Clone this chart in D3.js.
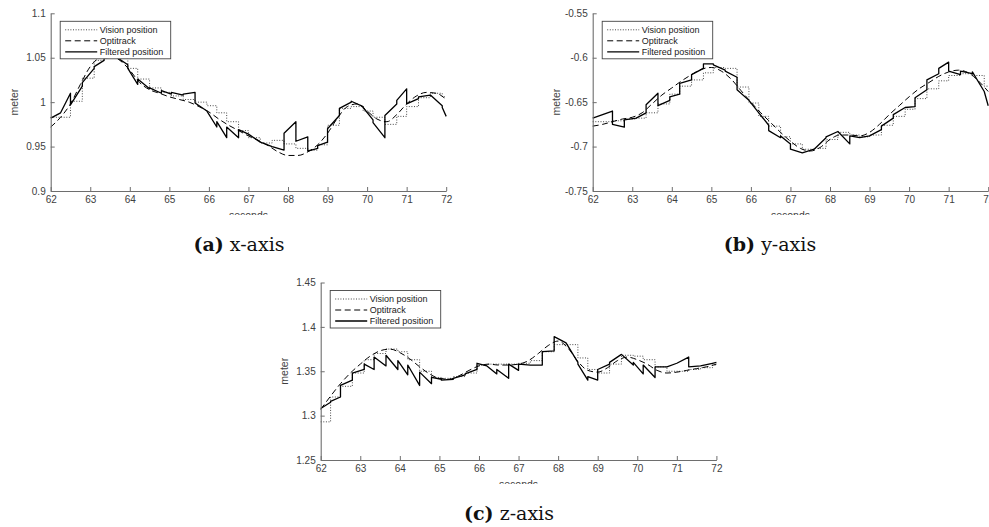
<!DOCTYPE html>
<html>
<head>
<meta charset="utf-8">
<script src="https://cdn.jsdelivr.net/npm/d3@7"></script>
<style>
  body { margin: 0; background: #fff; }
  svg { display: block; }
</style>
</head>
<body>
<div id="chart"></div>
<script>
// vision samples arrive at these times (shared by the three axes)
const visionTimes = [62.0, 62.25, 62.5, 62.8, 63.1, 63.35, 63.65, 63.95, 64.2, 64.5, 64.8, 65.05,
    65.35, 65.65, 65.95, 66.2, 66.45, 66.75, 67.0, 67.3, 67.6, 67.9, 68.2, 68.5,
    68.75, 69.0, 69.3, 69.6, 69.9, 70.15, 70.45, 70.75, 71.0, 71.3, 71.6, 71.9];

// optitrack sample times
const optiTimes = [62.0, 62.25, 62.5, 62.75, 63.0, 63.25, 63.5, 63.75, 64.0, 64.25, 64.5, 64.75,
    65.0, 65.25, 65.5, 65.75, 66.0, 66.25, 66.5, 66.75, 67.0, 67.25, 67.5, 67.75,
    68.0, 68.25, 68.5, 68.75, 69.0, 69.25, 69.5, 69.75, 70.0, 70.25, 70.5, 70.75,
    71.0, 71.25, 71.5, 71.75, 72.0];

// ---- x-axis
const xOpti = [0.972, 0.983, 0.998, 1.02, 1.04, 1.05, 1.052, 1.047, 1.036, 1.022, 1.014, 1.01,
    1.006, 1.003, 1.0, 0.995, 0.989, 0.981, 0.974, 0.968, 0.962, 0.957, 0.951, 0.944,
    0.94, 0.94, 0.944, 0.952, 0.965, 0.982, 0.995, 0.998, 0.99, 0.981, 0.978, 0.986,
    0.998, 1.007, 1.011, 1.01, 1.003];
const xVision = [0.983, 0.983, 1.001, 1.027, 1.047, 1.052, 1.05, 1.038, 1.026, 1.016, 1.011, 1.007,
    1.003, 1.0, 0.996, 0.988, 0.978, 0.968, 0.96, 0.954, 0.957, 0.953, 0.948, 0.946,
    0.952, 0.974, 0.993, 0.995, 0.99, 0.983, 0.975, 0.984, 0.995, 1.005, 1.01, 1.006];
const xFiltStart = [0.982, 0.988, 0.997, 1.022, 1.04, 1.049, 1.051, 1.038, 1.026, 1.016, 1.013, 1.011,
    1.009, 0.999, 0.99, 0.978, 0.972, 0.969, 0.964, 0.955, 0.95, 0.965, 0.956, 0.945,
    0.951, 0.97, 0.993, 1.001, 0.994, 0.977, 0.985, 1.002, 0.998, 1.006, 1.008, 0.994];
const xFiltEnd = [0.988, 1.01, 1.018, 1.038, 1.047, 1.052, 1.042, 1.02, 1.015, 1.01, 1.009, 1.008,
    1.011, 0.99, 0.972, 0.96, 0.96, 0.964, 0.955, 0.95, 0.946, 0.978, 0.961, 0.948,
    0.955, 0.985, 1.0, 0.995, 0.98, 0.96, 0.998, 1.015, 1.004, 1.008, 0.996, 0.984];

// ---- y-axis
const yOpti = [-0.677, -0.675, -0.672, -0.669, -0.667, -0.662, -0.652, -0.642, -0.634, -0.626, -0.619, -0.613,
    -0.611, -0.615, -0.624, -0.637, -0.65, -0.662, -0.673, -0.684, -0.694, -0.702, -0.705, -0.701,
    -0.692, -0.687, -0.687, -0.688, -0.684, -0.675, -0.664, -0.654, -0.644, -0.635, -0.628, -0.621,
    -0.616, -0.614, -0.617, -0.626, -0.638];
const yVision = [-0.672, -0.672, -0.671, -0.669, -0.668, -0.662, -0.652, -0.641, -0.632, -0.625, -0.617, -0.611,
    -0.612, -0.633, -0.651, -0.666, -0.677, -0.689, -0.697, -0.703, -0.702, -0.692, -0.684, -0.687,
    -0.689, -0.687, -0.676, -0.666, -0.658, -0.646, -0.635, -0.626, -0.62, -0.618, -0.62, -0.632];
const yFiltStart = [-0.668, -0.664, -0.675, -0.67, -0.668, -0.653, -0.654, -0.644, -0.629, -0.619, -0.607, -0.608,
    -0.615, -0.636, -0.648, -0.662, -0.682, -0.688, -0.703, -0.707, -0.703, -0.689, -0.683, -0.688,
    -0.69, -0.688, -0.677, -0.664, -0.656, -0.645, -0.625, -0.612, -0.615, -0.615, -0.616, -0.638];
const yFiltEnd = [-0.664, -0.66, -0.678, -0.668, -0.662, -0.64, -0.648, -0.641, -0.625, -0.612, -0.607, -0.614,
    -0.622, -0.648, -0.662, -0.676, -0.69, -0.697, -0.707, -0.703, -0.69, -0.683, -0.697, -0.69,
    -0.688, -0.681, -0.668, -0.656, -0.655, -0.636, -0.618, -0.605, -0.619, -0.618, -0.638, -0.654];

// ---- z-axis
const zOpti = [1.307, 1.322, 1.336, 1.348, 1.358, 1.367, 1.373, 1.375, 1.371, 1.364, 1.355, 1.347,
    1.342, 1.341, 1.345, 1.351, 1.356, 1.358, 1.357, 1.357, 1.358, 1.362, 1.37, 1.379,
    1.384, 1.376, 1.361, 1.351, 1.349, 1.354, 1.362, 1.366, 1.363, 1.358, 1.351, 1.348,
    1.349, 1.351, 1.353, 1.355, 1.358];
const zVision = [1.293, 1.321, 1.333, 1.348, 1.363, 1.37, 1.375, 1.372, 1.363, 1.35, 1.343, 1.342,
    1.344, 1.348, 1.357, 1.358, 1.358, 1.358, 1.359, 1.362, 1.372, 1.38, 1.38, 1.365,
    1.352, 1.348, 1.358, 1.368, 1.367, 1.363, 1.355, 1.35, 1.35, 1.352, 1.354, 1.357];
const zFiltStart = [1.308, 1.316, 1.334, 1.348, 1.358, 1.366, 1.368, 1.362, 1.357, 1.349, 1.343, 1.34,
    1.342, 1.347, 1.359, 1.356, 1.352, 1.358, 1.358, 1.357, 1.372, 1.389, 1.382, 1.358,
    1.344, 1.352, 1.36, 1.369, 1.36, 1.357, 1.355, 1.355, 1.359, 1.355, 1.356, 1.359];
const zFiltEnd = [1.315, 1.321, 1.34, 1.352, 1.352, 1.356, 1.352, 1.346, 1.334, 1.336, 1.341, 1.341,
    1.346, 1.352, 1.356, 1.347, 1.342, 1.351, 1.357, 1.357, 1.373, 1.382, 1.36, 1.34,
    1.34, 1.358, 1.369, 1.357, 1.347, 1.343, 1.355, 1.359, 1.366, 1.356, 1.359, 1.36];

// tick labels
const xTicks = [62, 63, 64, 65, 66, 67, 68, 69, 70, 71, 72];
const xTickLabels = ["62", "63", "64", "65", "66", "67", "68", "69", "70", "71", "72"];
const yTicksA = [0.9, 0.95, 1.0, 1.05, 1.1];
const yTickLabelsA = ["0.9", "0.95", "1", "1.05", "1.1"];
const yTicksB = [-0.75, -0.7, -0.65, -0.6, -0.55];
const yTickLabelsB = ["-0.75", "-0.7", "-0.65", "-0.6", "-0.55"];
const yTicksC = [1.25, 1.3, 1.35, 1.4, 1.45];
const yTickLabelsC = ["1.25", "1.3", "1.35", "1.4", "1.45"];
const legendLabels = ["Vision position", "Optitrack", "Filtered position"];

const W = 989, H = 527;
const svg = d3.select("#chart").append("svg").attr("width", W).attr("height", H);

const STYLES = [
    { stroke: "#333", width: 0.9, dash: "1,1.6" },   // vision
    { stroke: "#000", width: 1.0, dash: "6,3.5" },   // optitrack
    { stroke: "#000", width: 1.3, dash: null }       // filtered
];

class PositionPlot {
    constructor(root, id, box, yTicks, yLabels, opti, vision, filtStart, filtEnd, caption) {
        this.root = root;
        this.id = id;
        this.box = box;          // {left, right, top, bottom}
        this.yTicks = yTicks;
        this.yLabels = yLabels;
        this.opti = opti;
        this.vision = vision;
        this.filtStart = filtStart;
        this.filtEnd = filtEnd;
        this.caption = caption;
        this.g = root.append("g");
        this.setUpScales();
        this.drawLines();
        this.drawAxes();
        this.drawLegend();
        this.drawTitles();
    }

    // SCALES
    setUpScales() {
        this.x = d3.scaleLinear().domain([62, 72]).range([this.box.left, this.box.right]);
        this.y = d3.scaleLinear()
            .domain([this.yTicks[0], this.yTicks[this.yTicks.length - 1]])
            .range([this.box.bottom, this.box.top]);
    }

    // LINES
    drawLines() {
        const x = this.x, y = this.y;
        const line = d3.line().x(d => x(d[0])).y(d => y(d[1]));

        // vision: sample and hold
        const visPts = visionTimes.map((t, i) => [t, this.vision[i]]);
        visPts.push([72, this.vision[this.vision.length - 1]]);
        this.addPath(line.curve(d3.curveStepAfter)(visPts), STYLES[0]);

        // optitrack: smooth
        const optPts = optiTimes.map((t, i) => [t, this.opti[i]]);
        this.addPath(d3.line().x(d => x(d[0])).y(d => y(d[1])).curve(d3.curveMonotoneX)(optPts), STYLES[1]);

        // filtered: one segment per vision interval, jumps at the updates
        const filtPts = [];
        visionTimes.forEach((t, i) => {
            const tNext = i < visionTimes.length - 1 ? visionTimes[i + 1] : 72;
            filtPts.push([t, this.filtStart[i]]);
            filtPts.push([tNext, this.filtEnd[i]]);
        });
        this.addPath(d3.line().x(d => x(d[0])).y(d => y(d[1]))(filtPts), STYLES[2]);
    }

    addPath(d, s) {
        this.g.append("path")
            .attr("d", d)
            .attr("fill", "none")
            .attr("stroke", s.stroke)
            .attr("stroke-width", s.width)
            .attr("stroke-dasharray", s.dash)
            .attr("stroke-linejoin", "round");
    }

    // AXES (matlab style, ticks pointing in)
    drawAxes() {
        const xAxis = d3.axisBottom(this.x)
            .tickValues(xTicks)
            .tickFormat((d, i) => xTickLabels[i])
            .tickSizeInner(-4).tickSizeOuter(0).tickPadding(5);
        const yAxis = d3.axisLeft(this.y)
            .tickValues(this.yTicks)
            .tickFormat((d, i) => this.yLabels[i])
            .tickSizeInner(-4).tickSizeOuter(0).tickPadding(5);

        [[xAxis, `translate(0,${this.box.bottom})`], [yAxis, `translate(${this.box.left},0)`]].forEach(a => {
            const ax = this.g.append("g").attr("transform", a[1]).call(a[0]);
            ax.select(".domain").attr("stroke", "#6e6e6e").attr("stroke-width", 1.1);
            ax.selectAll(".tick line").attr("stroke", "#6e6e6e");
            ax.selectAll("text")
                .attr("fill", "#404040")
                .style("font-family", "'Liberation Sans', Arial, sans-serif")
                .style("font-size", "10px");
        });
    }

    // LEGEND
    drawLegend() {
        const x0 = this.box.left + 9.5, y0 = this.box.top + 8;
        const lg = this.g.append("g").attr("transform", `translate(${x0},${y0})`);
        lg.append("rect")
            .attr("width", 110.5).attr("height", 37.5)
            .attr("fill", "#fff").attr("stroke", "#444").attr("stroke-width", 0.9);
        legendLabels.forEach((label, i) => {
            const yy = 8.5 + i * 11;
            lg.append("line")
                .attr("x1", 5).attr("x2", 37).attr("y1", yy).attr("y2", yy)
                .attr("stroke", STYLES[i].stroke)
                .attr("stroke-width", STYLES[i].width)
                .attr("stroke-dasharray", STYLES[i].dash);
            lg.append("text")
                .attr("x", 39.5).attr("y", yy + 3.2)
                .attr("fill", "#1a1a1a")
                .style("font-family", "'Liberation Sans', Arial, sans-serif")
                .style("font-size", "9px")
                .text(label);
        });
    }

    // TITLES: axis names and sub caption
    drawTitles() {
        const b = this.box;
        const font = "'Liberation Sans', Arial, sans-serif";

        // "seconds" is cut by the edge of the sub figure
        const clip = this.root.append("clipPath").attr("id", "clip-" + this.id);
        clip.append("rect").attr("x", b.left - 60).attr("y", b.bottom).attr("width", 520).attr("height", 24);
        this.g.append("text")
            .attr("clip-path", `url(#clip-${this.id})`)
            .attr("x", (b.left + b.right) / 2).attr("y", b.bottom + 27.5)
            .attr("text-anchor", "middle")
            .attr("fill", "#404040")
            .style("font-family", font).style("font-size", "10.5px")
            .text("seconds");

        this.g.append("text")
            .attr("transform", `translate(${b.left - 33},${(b.top + b.bottom) / 2}) rotate(-90)`)
            .attr("text-anchor", "middle")
            .attr("fill", "#404040")
            .style("font-family", font).style("font-size", "10.5px")
            .text("meter");

        const cap = this.g.append("text")
            .attr("x", this.caption.x).attr("y", this.caption.y)
            .attr("text-anchor", "middle")
            .attr("fill", "#111")
            .style("font-family", "'DejaVu Serif', serif")
            .style("font-size", "19px");
        cap.append("tspan").style("font-weight", "bold").text(this.caption.tag);
        cap.append("tspan").text(" " + this.caption.text);
    }
}

new PositionPlot(svg, "a", { left: 50.7, right: 446.2, top: 13.3, bottom: 191 },
    yTicksA, yTickLabelsA, xOpti, xVision, xFiltStart, xFiltEnd,
    { tag: "(a)", text: "x-axis", x: 239, y: 251 });
new PositionPlot(svg, "b", { left: 592.7, right: 988.2, top: 13.3, bottom: 191 },
    yTicksB, yTickLabelsB, yOpti, yVision, yFiltStart, yFiltEnd,
    { tag: "(b)", text: "y-axis", x: 770, y: 251 });
new PositionPlot(svg, "c", { left: 320.7, right: 716.4, top: 282.5, bottom: 460 },
    yTicksC, yTickLabelsC, zOpti, zVision, zFiltStart, zFiltEnd,
    { tag: "(c)", text: "z-axis", x: 509, y: 520 });
</script>
</body>
</html>
